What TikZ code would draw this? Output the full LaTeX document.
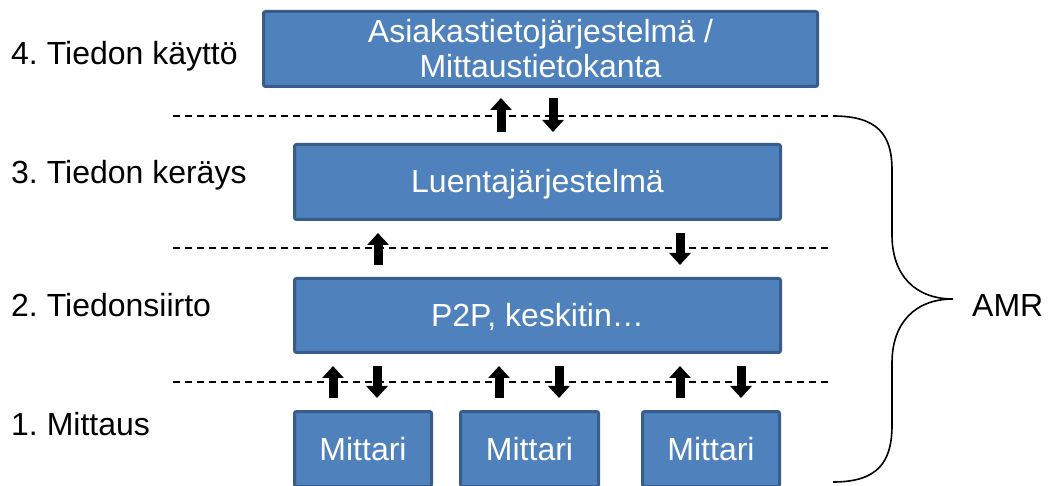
\documentclass[tikz,border=0pt]{standalone}
\usepackage{fontspec}
\setmainfont{Liberation Sans}
\usetikzlibrary{arrows.meta}
\frenchspacing
\definecolor{boxfill}{RGB}{79,129,189}
\definecolor{boxedge}{RGB}{56,93,138}
\tikzset{
  bigfont/.style={font=\fontsize{32}{35}\selectfont},
  bluebox/.style={rectangle, draw=boxedge, fill=boxfill, line width=3pt, rounded corners=2pt,
    inner sep=0pt, text=white, bigfont, minimum height=75pt},
  oneline/.style={text height=24pt, text depth=2pt},
  layerlabel/.style={anchor=base west, inner sep=0pt, bigfont, text=black},
  sepline/.style={dashed, dash pattern=on 7pt off 5pt, line width=1.4pt},
  blockarrow/.style={line width=9pt, -{Triangle[width=21pt,length=12pt]}},
  bracestyle/.style={line width=1.6pt}
}
\begin{document}
\frenchspacing
\begin{tikzpicture}[x=1pt,y=-1pt]
\useasboundingbox (0,0) rectangle (1050,486);
% boxes
\node[bluebox, minimum width=554pt, align=center] (db) at (540.5,49) {Asiakastietojärjestelmä /\\Mittaustietokanta};
\node[bluebox, oneline, minimum width=486pt] (luenta) at (537.5,182) {Luentajärjestelmä};
\node[bluebox, oneline, minimum width=486pt, minimum height=74pt] (p2p) at (537.5,315.5) {P2P, keskitin…};
\node[bluebox, oneline, minimum width=137pt] (m1) at (363,449) {Mittari};
\node[bluebox, oneline, minimum width=138pt] (m2) at (529.5,449) {Mittari};
\node[bluebox, oneline, minimum width=137pt] (m3) at (711,449) {Mittari};
% layer labels
\node[layerlabel] (l4) at (11,65) {4. Tiedon käyttö};
\node[layerlabel] (l3) at (11,184) {3. Tiedon keräys};
\node[layerlabel] (l2) at (11,317) {2. Tiedonsiirto};
\node[layerlabel] (l1) at (11,435) {1. Mittaus};
\node[anchor=base west, inner sep=0pt, bigfont] (amr) at (972,317) {AMR};
% dashed separators
\coordinate (d1a) at (173,116); \coordinate (d1b) at (829,116);
\coordinate (d2a) at (173,248); \coordinate (d2b) at (829,248);
\coordinate (d3a) at (173,382); \coordinate (d3b) at (829,382);
\draw[sepline] (d1a) -- (d1b);
\draw[sepline] (d2a) -- (d2b);
\draw[sepline] (d3a) -- (d3b);
% arrows
\coordinate (a1s) at (501,132); \coordinate (a1e) at (501,98);
\coordinate (a2s) at (553,98);  \coordinate (a2e) at (553,132);
\coordinate (a3s) at (378,265); \coordinate (a3e) at (378,233);
\coordinate (a4s) at (680,233); \coordinate (a4e) at (680,265);
\coordinate (a5s) at (333,398); \coordinate (a5e) at (333,366);
\coordinate (a6s) at (377,366); \coordinate (a6e) at (377,398);
\coordinate (a7s) at (499,398); \coordinate (a7e) at (499,366);
\coordinate (a8s) at (559,366); \coordinate (a8e) at (559,398);
\coordinate (a9s) at (680,398); \coordinate (a9e) at (680,366);
\coordinate (a10s) at (741,366); \coordinate (a10e) at (741,398);
\foreach \i in {1,...,10} { \draw[blockarrow] (a\i s) -- (a\i e); }
% brace
\draw[bracestyle] (833,116) .. controls (878,116) and (892,135) .. (892,170)
  -- (892,235) .. controls (892,275) and (915,299) .. (953,299)
  .. controls (915,299) and (892,323) .. (892,363)
  -- (892,425) .. controls (892,462) and (878,482) .. (833,482);
\end{tikzpicture}
\end{document}
